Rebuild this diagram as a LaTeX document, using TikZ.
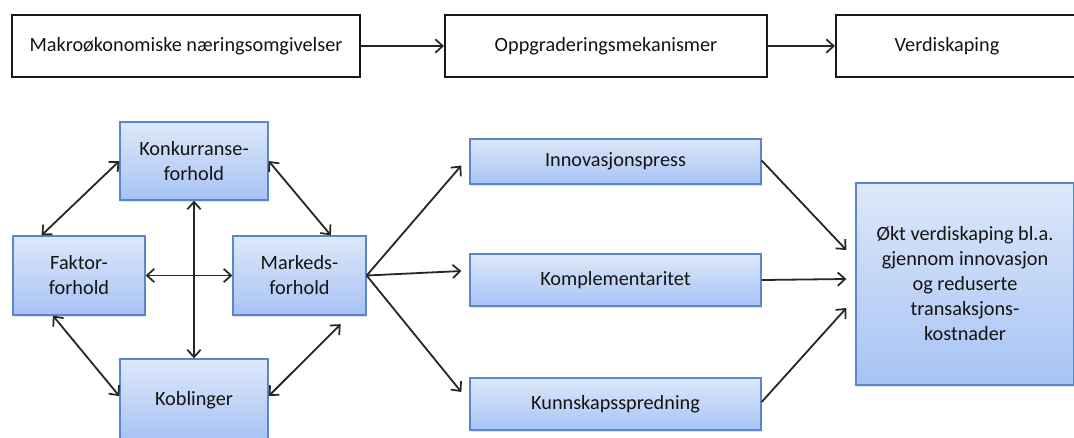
\documentclass[tikz,border=0pt]{standalone}
\usepackage{fontspec}
\setmainfont{Carlito}
\usetikzlibrary{arrows.meta,calc,shadows}
\definecolor{bluebord}{HTML}{5B87C8}
\definecolor{bluetop}{HTML}{DDE8FA}
\definecolor{bluebot}{HTML}{A7C3F4}
\definecolor{txt}{HTML}{141414}
\tikzset{
  tbox/.style={draw=black!90, line width=1.5pt, fill=white, inner sep=0pt, align=center, text=txt, font=\fontsize{15.2pt}{18.75pt}\selectfont, minimum height=46.5pt},
  bbox/.style={draw=bluebord, line width=1pt, top color=bluetop, bottom color=bluebot, inner sep=0pt, align=center, text=txt, font=\fontsize{15.2pt}{18.75pt}\selectfont, drop shadow={shadow xshift=1pt, shadow yshift=-1.2pt, opacity=0.25}},
  arr/.style={line width=1.35pt, draw=black!85, -{Straight Barb[length=5.5pt,width=10pt,line width=1.3pt]}},
  darr/.style={line width=1.35pt, draw=black!85, {Straight Barb[length=5.5pt,width=10pt,line width=1.3pt]}-{Straight Barb[length=5.5pt,width=10pt,line width=1.3pt]}}
}
\begin{document}
\begin{tikzpicture}[x=0.75pt, y=-0.75pt]
\useasboundingbox (0,0) rectangle (1074,437);
\clip (0,0) rectangle (1074,437);
\fill[white] (0,0) rectangle (1074,437);
% top row
\node[tbox, minimum width=261pt] (t1) at (186,46) {Makroøkonomiske næringsomgivelser};
\node[tbox, minimum width=241.5pt] (t2) at (606,46) {Oppgraderingsmekanismer};
\node[tbox, minimum width=190.5pt] (t3) at (963,46) {\hspace*{-24pt}Verdiskaping};
\draw[arr] (t1) -- (t2);
\draw[arr] (t2) -- (t3);
% left cluster
\node[bbox, minimum width=111pt, minimum height=58.5pt] (konk) at (194,161) {Konkurranse-\\forhold};
\node[bbox, minimum width=99pt, minimum height=59.25pt] (fak) at (79,275.5) {Faktor-\\forhold};
\node[bbox, minimum width=99.75pt, minimum height=59.25pt] (mar) at (299.5,275.5) {Markeds-\\forhold};
\node[bbox, minimum width=111pt, minimum height=61.5pt] (kob) at (194,400) {Koblinger};
\draw[darr] (konk.south) -- (kob.north);
\draw[darr] (fak.east) -- (mar.west);
\draw[darr] (konk.west) -- (fak.133);
\draw[darr] (konk.east) -- (mar.52);
\draw[darr] (fak.237) -- (kob.177);
\draw[darr, shorten >=9pt] (kob.3) -- (mar.321);
% middle column
\node[bbox, minimum width=218.25pt, minimum height=33.75pt] (inn) at (615.5,161.5) {Innovasjonspress};
\node[bbox, minimum width=218.25pt, minimum height=39pt] (kom) at (615.5,280) {Komplementaritet};
\node[bbox, minimum width=218.25pt, minimum height=39pt] (kun) at (615.5,404) {Kunnskapsspredning};
\coordinate (ia) at ($(inn.west)+(-8,4)$);
\coordinate (ka) at ($(kom.west)+(-8,-9)$);
\coordinate (ua) at ($(kun.west)+(-8,-12)$);
\draw[arr] (mar.east) -- (ia);
\draw[arr] (mar.east) -- (ka);
\draw[arr] (mar.east) -- (ua);
% right box
\node[bbox, minimum width=163.5pt, minimum height=151.5pt] (okt) at (965,284) {Økt verdiskaping bl.a.\\gjennom innovasjon\\og reduserte\\transaksjons-\\kostnader};
\coordinate (o1) at ($(okt.west)+(-9,-34)$);
\coordinate (o2) at ($(okt.west)+(-9,-5)$);
\coordinate (o3) at ($(okt.west)+(-9,24)$);
\draw[arr] ($(inn.east)+(0,-1)$) -- (o1);
\draw[arr] (kom.east) -- (o2);
\draw[arr] ($(kun.east)+(0,-2)$) -- (o3);
\end{tikzpicture}
\end{document}
